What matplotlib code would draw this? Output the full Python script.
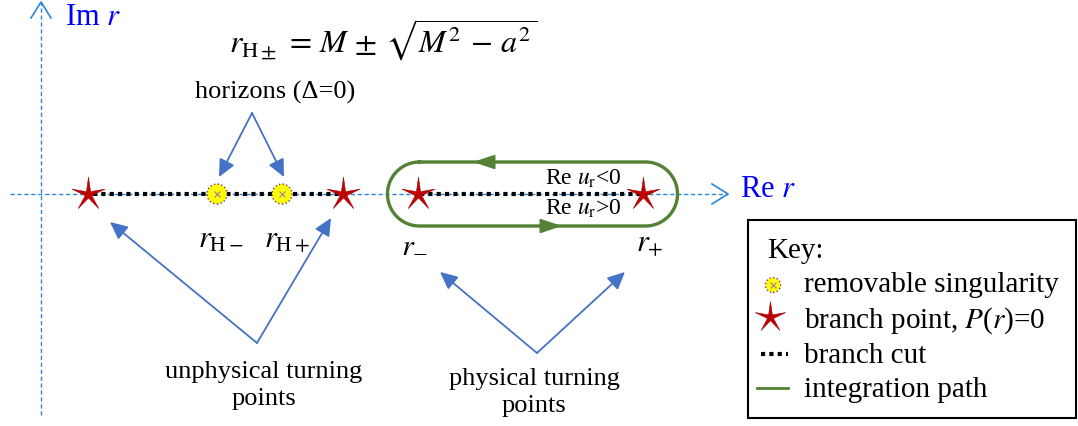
#!/usr/bin/env python3
# _*_ coding=utf-8 _*_

import numpy as np
import matplotlib
matplotlib.use("Agg")
import matplotlib.pyplot as plt
from matplotlib.path import Path
from matplotlib.patches import Circle, Rectangle

plt.rcParams["font.family"] = ["Liberation Serif", "DejaVu Serif"]
plt.rcParams["mathtext.fontset"] = "stix"

# complex r-plane, origin where the two axes cross (1 unit = 1 px)
branch_points = [47, 302, 377, 602]          # unphysical pair, then r_-, r_+
horizons = [176, 241]                         # r_H-, r_H+
cuts = [(52, 301), (379, 604)]
loop_radius = 32
point_labels = [r"$r_{\mathrm{H}-}$", r"$r_{\mathrm{H}+}$", r"$r_{-}$", r"$r_{+}$"]
point_label_x = [180, 246, 374, 609]
point_label_y = [-54, -54, -58, -58]
key_labels = ["removable singularity", r"branch point, $P$($r$)=0",
              "branch cut", "integration path"]

AXIS_BLUE = "#2a86d6"
ARROW_BLUE = "#4472c4"
STAR_RED = "#c00000"
PATH_GREEN = "#538135"


def star_path(inner=0.2):
    ang = np.pi / 2 + np.arange(10) * np.pi / 5
    rad = np.where(np.arange(10) % 2 == 0, 1.0, inner)
    v = np.column_stack([rad * np.cos(ang), rad * np.sin(ang)])
    return Path(np.vstack([v, v[:1]]), closed=True)


def blue_arrow(ax, start, end, color=ARROW_BLUE, hl=0.7, hw=0.33):
    ax.annotate("", xy=end, xytext=start,
                arrowprops=dict(arrowstyle="-|>,head_length=%g,head_width=%g" % (hl, hw),
                                color=color, lw=1.3, shrinkA=0, shrinkB=0,
                                mutation_scale=15))


def horizon_marker(ax, x, y, r=10):
    ax.add_patch(Circle((x, y), r, facecolor="#ffff00", edgecolor="#7030a0",
                        lw=1.0, ls=":", zorder=6))
    ax.plot([x], [y], marker="x", ms=5, mew=0.8, color="#9a7ab0", zorder=7)


def main():
    fig = plt.figure(figsize=(10.78, 4.26), dpi=100)
    ax = fig.add_axes([0, 0, 1, 1])
    ax.set_xlim(-41, 1037)
    ax.set_ylim(-232, 194)
    ax.axis("off")

    # axes of the complex plane
    ax.plot([-31, 687], [0, 0], color=AXIS_BLUE, lw=1.0, ls=(0, (3, 2)))
    ax.plot([0, 0], [-221, 192], color=AXIS_BLUE, lw=1.0, ls=(0, (3, 2)))
    ax.plot([671, 687, 671], [10, 0, -10], color=AXIS_BLUE, lw=1.2)
    ax.plot([-10, 0, 10], [176, 192, 176], color=AXIS_BLUE, lw=1.2)
    ax.text(24, 169, r"Im $r$", color="#0000ff", fontsize=22, va="baseline")
    ax.text(699, -3, r"Re $r$", color="#0000ff", fontsize=22, va="baseline")

    ax.text(342, 141, r"$r_{\mathrm{H}\pm}\,=\,M\,\pm\,\sqrt{M^{2}\,-\,a^{2}}$",
            fontsize=23, ha="center", va="baseline")

    # integration loop around the physical cut: left arc, bottom, right arc, top
    c0, c1 = branch_points[2] + 1.5, branch_points[3] + 2.5
    t = np.linspace(np.pi / 2, 3 * np.pi / 2, 60)
    left = np.column_stack([c0 + loop_radius * np.cos(t), loop_radius * np.sin(t)])
    t2 = np.linspace(-np.pi / 2, np.pi / 2, 60)
    right = np.column_stack([c1 + loop_radius * np.cos(t2), loop_radius * np.sin(t2)])
    loop = np.vstack([left, right, left[:1]])
    ax.plot(loop[:, 0], loop[:, 1], color=PATH_GREEN, lw=2.4, zorder=3)
    blue_arrow(ax, (456, loop_radius), (432, loop_radius), color=PATH_GREEN,
               hl=0.9, hw=0.3)
    blue_arrow(ax, (496, -loop_radius), (521, -loop_radius), color=PATH_GREEN,
               hl=0.9, hw=0.3)

    # branch cuts
    for a, b in cuts:
        ax.plot([a, b], [0, 0], color="black", lw=3.0, ls=(0, (1, 1.0)),
                solid_capstyle="butt", zorder=4)

    for x in horizons:
        horizon_marker(ax, x, 0)

    ax.plot(branch_points, [0] * len(branch_points), ls="none",
            marker=star_path(), ms=25, mfc=STAR_RED, mec="#a00000", mew=0.4,
            zorder=8)

    for s, x, y in zip(point_labels, point_label_x, point_label_y):
        ax.text(x, y, s, fontsize=22, ha="center", va="baseline")

    ax.text(542, 9, r"Re $u_{\mathrm{r}}$<0", fontsize=17, ha="center", va="baseline")
    ax.text(542, -21, r"Re $u_{\mathrm{r}}$>0", fontsize=17, ha="center", va="baseline")

    # annotations
    ax.text(234, 95, "horizons (\u0394=0)", fontsize=19, ha="center", va="baseline")
    for x in horizons:
        blue_arrow(ax, (211, 81), (x + 2, 17))
    blue_arrow(ax, (216, -149), (69, -28))
    blue_arrow(ax, (216, -149), (290, -24))
    blue_arrow(ax, (496, -159), (399, -78))
    blue_arrow(ax, (496, -159), (584, -78))
    ax.text(223, -184, "unphysical turning", fontsize=19, ha="center", va="baseline")
    ax.text(223, -211, "points", fontsize=19, ha="center", va="baseline")
    ax.text(493, -191, "physical turning", fontsize=19, ha="center", va="baseline")
    ax.text(493, -218, "points", fontsize=19, ha="center", va="baseline")

    # key
    ax.add_patch(Rectangle((707, -224), 328, 198, fill=False, ec="black", lw=1.5))
    ax.text(726, -64, "Key:", fontsize=21, va="baseline")
    row_y = [-98, -134, -169, -203]
    for s, y in zip(key_labels, row_y):
        ax.text(763, y, s, fontsize=21, va="baseline")
    horizon_marker(ax, 732, -91, r=7.5)
    ax.plot([729], [-123], marker=star_path(), ms=23, mfc=STAR_RED,
            mec="#a00000", mew=0.4, ls="none")
    ax.plot([720, 747], [-160, -160], color="black", lw=3.0, ls=(0, (1, 1.0)),
            solid_capstyle="butt")
    ax.plot([716, 747], [-194, -194], color=PATH_GREEN, lw=2.0)

    fig.savefig("out.png", dpi=100)


if __name__ == "__main__":
    main()
